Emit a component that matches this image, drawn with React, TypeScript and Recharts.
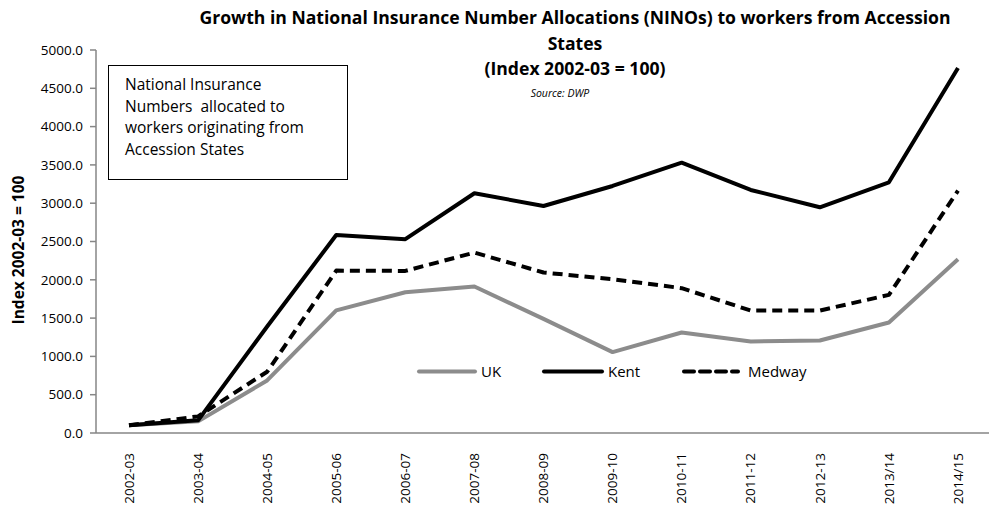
import React from "react";
import { LineChart, Line, XAxis, YAxis, Legend } from "recharts";

const categories = ["2002-03","2003-04","2004-05","2005-06","2006-07","2007-08","2008-09","2009-10","2010-11","2011-12","2012-13","2013/14","2014/15"];
const ukValues = [100, 152, 686, 1600, 1838, 1912, 1490, 1056, 1312, 1195, 1208, 1443, 2269];
const kentValues = [100, 165, 1390, 2585, 2530, 3130, 2963, 3225, 3529, 3173, 2947, 3273, 4764];
const medwayValues = [100, 217, 800, 2120, 2116, 2355, 2095, 2008, 1891, 1599, 1599, 1803, 3164];
const yTicks = [0, 500, 1000, 1500, 2000, 2500, 3000, 3500, 4000, 4500, 5000];

const data = categories.map((c, i) => ({ cat: c, UK: ukValues[i], Kent: kentValues[i], Medway: medwayValues[i] }));

const FONT = "'Open Sans', Lato, sans-serif";

const XTick = (props: any) => {
  const { x, y, payload } = props;
  return (
    <g transform={`translate(${x},${y + 12})`}>
      <text transform="rotate(-90)" textAnchor="end" dy="0.35em" fontSize={13.5} fill="#000" fontFamily={FONT}>
        {payload.value}
      </text>
    </g>
  );
};

const LegendContent = () => {
  const items = [
    { name: "UK", color: "#8c8c8c", dash: undefined, lineX: 419, lineW: 56, textX: 481 },
    { name: "Kent", color: "#000", dash: undefined, lineX: 544, lineW: 58, textX: 608 },
    { name: "Medway", color: "#000", dash: "10 6", lineX: 684, lineW: 54, textX: 748 },
  ];
  return (
    <svg width={989} height={30} style={{ position: "absolute", left: 0, top: 357 }}>
      {items.map((it) => (
        <g key={it.name}>
          <line x1={it.lineX} x2={it.lineX + it.lineW} y1={14.5} y2={14.5} stroke={it.color} strokeWidth={4} strokeDasharray={it.dash} strokeLinecap="round" />
          <text x={it.textX} y={14.5} dy="0.35em" fontSize={15} fontFamily={FONT} fill="#000">{it.name}</text>
        </g>
      ))}
    </svg>
  );
};

export default function App() {
  return (
    <div style={{ position: "absolute", left: 0, top: 0, width: 989, height: 508, background: "#fff", fontFamily: FONT }}>
      <LineChart width={989} height={508} data={data} margin={{ top: 50, right: 0, left: 0, bottom: 0 }}>
        <XAxis dataKey="cat" height={75} tickLine={false} axisLine={{ stroke: "#868686", strokeWidth: 1.5 }} tick={<XTick />} interval={0} padding={{ left: 33, right: 31 }} />
        <YAxis width={96} domain={[0, 5000]} ticks={yTicks} tickFormatter={(v: number) => v.toFixed(1)} tickSize={6} tickMargin={7}
          axisLine={{ stroke: "#868686", strokeWidth: 1.5 }} tickLine={{ stroke: "#868686", strokeWidth: 1.5 }}
          tick={{ fontSize: 13.5, fill: "#000", fontFamily: FONT }} interval={0} />
        <Line dataKey="UK" stroke="#8c8c8c" strokeWidth={4} dot={false} isAnimationActive={false} strokeLinejoin="round" />
        <Line dataKey="Kent" stroke="#000" strokeWidth={4} dot={false} isAnimationActive={false} strokeLinejoin="round" />
        <Line dataKey="Medway" stroke="#000" strokeWidth={4} strokeDasharray="10 6" dot={false} isAnimationActive={false} strokeLinejoin="round" />
        <Legend content={<LegendContent />} wrapperStyle={{ position: "absolute", left: 0, top: 0, width: 989, height: 0 }} />
      </LineChart>
      <div style={{ position: "absolute", left: 160, width: 830, top: 5, textAlign: "center", fontWeight: 700, fontSize: 17.6, lineHeight: "25.5px", color: "#000" }}>
        Growth in National Insurance Number Allocations (NINOs) to workers from Accession<br />States<br />(Index 2002-03 = 100)
      </div>
      <div style={{ position: "absolute", left: 500, width: 120, top: 85, textAlign: "center", fontStyle: "italic", fontSize: 10.5, lineHeight: "16px", color: "#000" }}>
        Source: DWP
      </div>
      <div style={{ position: "absolute", left: 108, top: 65, width: 240, height: 115, border: "1.5px solid #000", boxSizing: "border-box", padding: "8px 0 0 16px", fontSize: 15.5, lineHeight: "21.5px", color: "#000" }}>
        National Insurance<br />Numbers&nbsp; allocated to<br />workers originating from<br />Accession States
      </div>
      <div style={{ position: "absolute", left: 18, top: 250, transform: "translate(-50%,-50%) rotate(-90deg)", whiteSpace: "nowrap", fontWeight: 700, fontSize: 15.5, color: "#000" }}>
        Index 2002-03 = 100
      </div>
    </div>
  );
}
